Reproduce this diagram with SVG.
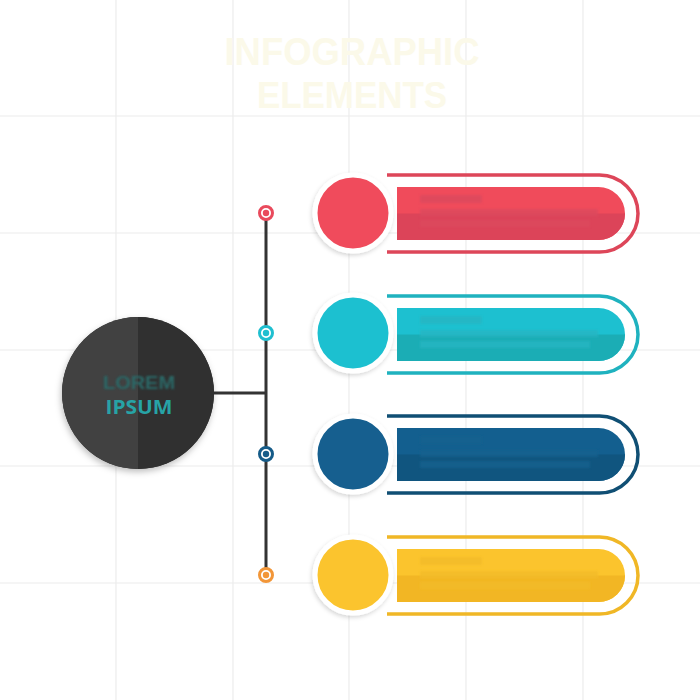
<svg xmlns="http://www.w3.org/2000/svg" width="700" height="700" viewBox="0 0 700 700">
<defs>
<filter id="sh" x="-30%" y="-30%" width="160%" height="160%"><feDropShadow dx="-1" dy="2" stdDeviation="2" flood-color="#000" flood-opacity="0.16"/></filter>
<filter id="shc" x="-30%" y="-30%" width="160%" height="160%"><feDropShadow dx="-1" dy="3" stdDeviation="3" flood-color="#000" flood-opacity="0.25"/></filter>
<filter id="bl" x="-10%" y="-50%" width="120%" height="200%"><feGaussianBlur stdDeviation="1.2"/></filter>
<style>
.grid line{stroke:#ececec;stroke-width:1.2}
.title{font-family:"Liberation Sans",Arial,sans-serif;font-weight:bold;fill:#fbf9e9;text-anchor:middle}
.conn{stroke:#333;stroke-width:3;fill:none}
.ring{fill:#fff;stroke-width:3}
.outline{fill:none;stroke-width:3.5}
.ph{filter:url(#bl)}
</style>
</defs>
<rect width="700" height="700" fill="#fff"/>
<g class="grid">
<line x1="116" y1="0" x2="116" y2="700"/><line x1="233" y1="0" x2="233" y2="700"/><line x1="349" y1="0" x2="349" y2="700"/><line x1="466" y1="0" x2="466" y2="700"/><line x1="583" y1="0" x2="583" y2="700"/>
<line x1="0" y1="116" x2="700" y2="116"/><line x1="0" y1="233" x2="700" y2="233"/><line x1="0" y1="350" x2="700" y2="350"/><line x1="0" y1="466" x2="700" y2="466"/><line x1="0" y1="583" x2="700" y2="583"/>
</g>
<g id="title">
<text class="title" x="352" y="65" font-size="39" textLength="255" lengthAdjust="spacingAndGlyphs">INFOGRAPHIC</text>
<text class="title" x="352" y="108" font-size="36" textLength="190" lengthAdjust="spacingAndGlyphs">ELEMENTS</text>
</g>
<g id="connectors">
<line class="conn" x1="214" y1="393" x2="266" y2="393"/>
<line class="conn" x1="266" y1="213" x2="266" y2="575"/>
</g>
<g id="dot-red"><circle class="ring" cx="266" cy="213" r="6.5" stroke="#e94a5c"/><circle cx="266" cy="213" r="3.2" fill="#e94a5c"/></g>
<g id="dot-teal"><circle class="ring" cx="266" cy="333" r="6.5" stroke="#1fbfd0"/><circle cx="266" cy="333" r="3.2" fill="#1fbfd0"/></g>
<g id="dot-blue"><circle class="ring" cx="266" cy="454" r="6.5" stroke="#155b88"/><circle cx="266" cy="454" r="3.2" fill="#155b88"/></g>
<g id="dot-orange"><circle class="ring" cx="266" cy="575" r="6.5" stroke="#f29638"/><circle cx="266" cy="575" r="3.2" fill="#f29638"/></g>
<g id="center">
<circle cx="138" cy="393" r="76" fill="#333" filter="url(#shc)"/>
<path d="M138 317 A76 76 0 0 0 138 469 Z" fill="#414141"/>
<path d="M138 317 A76 76 0 0 1 138 469 Z" fill="#303030"/>
<text x="139" y="389" font-family="Liberation Sans,Arial,sans-serif" font-weight="bold" font-size="19" fill="#2a6766" text-anchor="middle" textLength="72" lengthAdjust="spacingAndGlyphs" filter="url(#bl)">LOREM</text>
<text x="139" y="414" font-family="'Open Sans','Liberation Sans',Arial,sans-serif" font-weight="bold" font-size="19" fill="#27a3a6" text-anchor="middle" textLength="67" lengthAdjust="spacingAndGlyphs">IPSUM</text>
</g>
<g id="item-red">
<path class="outline" stroke="#dd4659" d="M387 175 H599.5 A38.5 38.5 0 0 1 599.5 252 H387"/>
<path d="M397 187 H598.5 A26.5 26.5 0 0 1 598.5 240 H397 Z" fill="#f04b5b"/>
<path d="M397 213.5 H625 A26.5 26.5 0 0 1 598.5 240 H397 Z" fill="#dc4459"/>
<g class="ph" fill="#dc4a5d" opacity="0.8"><rect x="420" y="195" width="62" height="8"/><rect x="420" y="209" width="178" height="7"/><rect x="420" y="220" width="170" height="7"/></g>
<circle cx="353" cy="213" r="38" fill="#f04b5b" stroke="#fff" stroke-width="5" filter="url(#sh)"/>
</g>
<g id="item-teal">
<path class="outline" stroke="#1fb2bf" d="M387 296 H599.5 A38.5 38.5 0 0 1 599.5 373 H387"/>
<path d="M397 308 H598.5 A26.5 26.5 0 0 1 598.5 361 H397 Z" fill="#1dc0d0"/>
<path d="M397 334.5 H625 A26.5 26.5 0 0 1 598.5 361 H397 Z" fill="#1badb5"/>
<g class="ph" fill="#25b6c3" opacity="0.8"><rect x="420" y="316" width="62" height="8"/><rect x="420" y="330" width="178" height="7"/><rect x="420" y="341" width="170" height="7"/></g>
<circle cx="353" cy="333" r="38" fill="#1fc0d0" stroke="#fff" stroke-width="5" filter="url(#sh)"/>
</g>
<g id="item-blue">
<path class="outline" stroke="#104f74" d="M387 416 H599.5 A38.5 38.5 0 0 1 599.5 493 H387"/>
<path d="M397 428 H598.5 A26.5 26.5 0 0 1 598.5 481 H397 Z" fill="#135f8f"/>
<path d="M397 454.5 H625 A26.5 26.5 0 0 1 598.5 481 H397 Z" fill="#10557f"/>
<g class="ph" fill="#18628f" opacity="0.8"><rect x="420" y="436" width="62" height="8"/><rect x="420" y="450" width="178" height="7"/><rect x="420" y="461" width="170" height="7"/></g>
<circle cx="353" cy="454" r="38" fill="#135f8f" stroke="#fff" stroke-width="5" filter="url(#sh)"/>
</g>
<g id="item-yellow">
<path class="outline" stroke="#f0b726" d="M387 537 H599.5 A38.5 38.5 0 0 1 599.5 614 H387"/>
<path d="M397 549 H598.5 A26.5 26.5 0 0 1 598.5 602 H397 Z" fill="#fbc42d"/>
<path d="M397 575.5 H625 A26.5 26.5 0 0 1 598.5 602 H397 Z" fill="#f2b624"/>
<g class="ph" fill="#f3bc2b" opacity="0.8"><rect x="420" y="557" width="62" height="8"/><rect x="420" y="571" width="178" height="7"/><rect x="420" y="582" width="170" height="7"/></g>
<circle cx="353" cy="575" r="38" fill="#fbc42d" stroke="#fff" stroke-width="5" filter="url(#sh)"/>
</g>
</svg>
